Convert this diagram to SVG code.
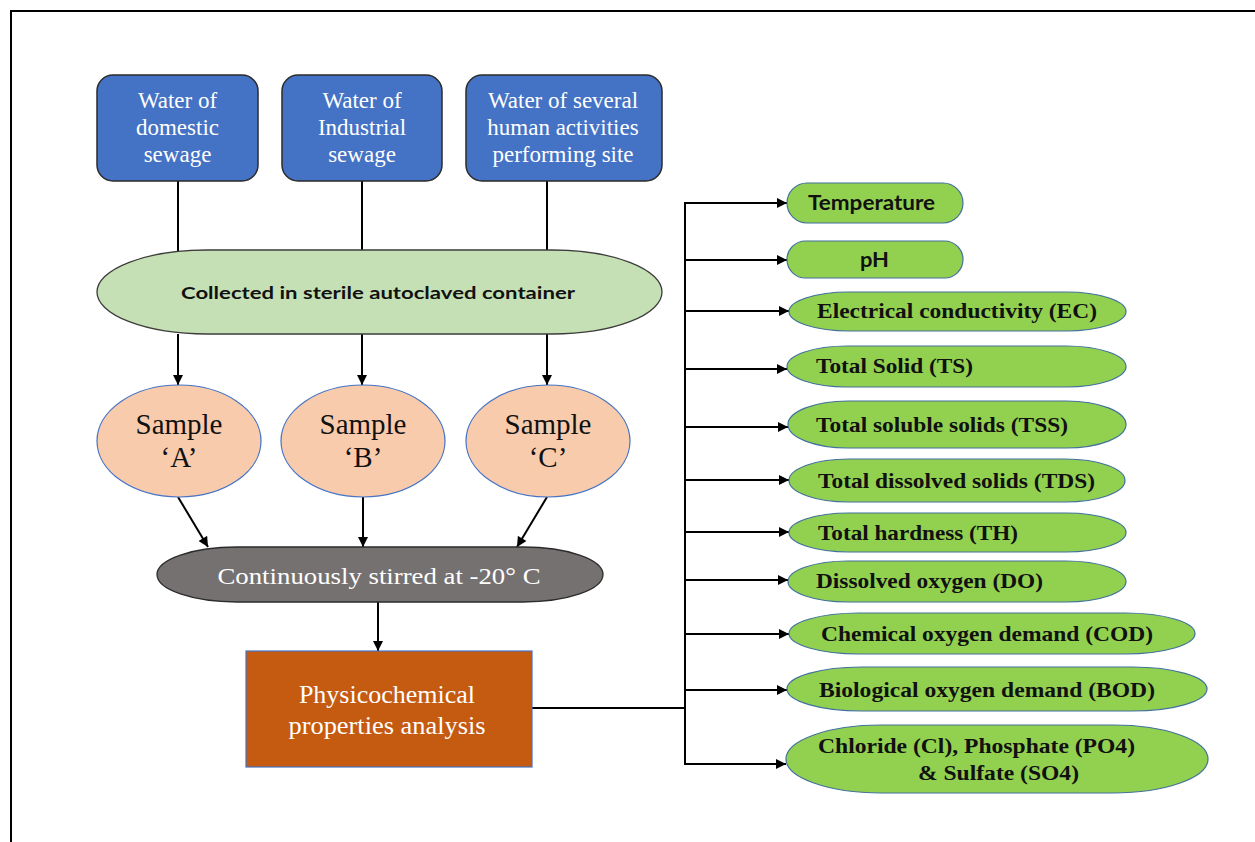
<svg xmlns="http://www.w3.org/2000/svg" width="1255" height="842" viewBox="0 0 1255 842">
<style>
.src{fill:#4472C4;stroke:#2b2b2b;stroke-width:1.5}
.srct{font-family:"Liberation Serif",serif;font-size:23px;fill:#fff;text-anchor:middle}
.samp{fill:#F8CBAD;stroke:#4472C4;stroke-width:1.2}
.sampt{font-family:"Liberation Serif",serif;font-size:29px;fill:#111;text-anchor:middle}
.pill{fill:#92D050;stroke:#41719C;stroke-width:1.2}
.pt{font-family:"Liberation Serif",serif;font-size:22px;font-weight:bold;fill:#111}
.ps{font-family:Lato,"Liberation Sans",sans-serif;font-size:20px;font-weight:bold;fill:#111}
.ln{stroke:#000;stroke-width:2;fill:none}
.ar{stroke:#000;stroke-width:2;fill:none;marker-end:url(#ah)}
</style>
<defs>
<marker id="ah" viewBox="0 0 10 10" refX="10" refY="5" markerWidth="5.5" markerHeight="5" orient="auto" markerUnits="strokeWidth">
<path d="M0,0 L10,5 L0,10 z" fill="#000"/>
</marker>
</defs>
<rect x="0" y="0" width="1255" height="842" fill="#fff"/>
<rect x="11" y="11" width="1270" height="860" fill="none" stroke="#000" stroke-width="2"/>

<g id="connectors">
<line class="ln" x1="178" y1="181" x2="178" y2="251"/>
<line class="ln" x1="362" y1="181" x2="362" y2="251"/>
<line class="ln" x1="547" y1="181" x2="547" y2="251"/>
<line class="ar" x1="178" y1="334" x2="178" y2="385"/>
<line class="ar" x1="362" y1="334" x2="362" y2="385"/>
<line class="ar" x1="547" y1="334" x2="547" y2="385"/>
<line class="ar" x1="178" y1="497" x2="208" y2="547"/>
<line class="ar" x1="363" y1="497" x2="363" y2="547"/>
<line class="ar" x1="547" y1="497" x2="517" y2="547"/>
<line class="ar" x1="378" y1="602" x2="378" y2="651"/>
<line class="ln" x1="532" y1="708" x2="685" y2="708"/>
<line class="ln" x1="685" y1="202" x2="685" y2="764"/>
<line class="ar" x1="684" y1="203" x2="787" y2="203"/>
<line class="ar" x1="685" y1="260" x2="787" y2="260"/>
<line class="ar" x1="685" y1="311" x2="789" y2="311"/>
<line class="ar" x1="685" y1="369" x2="787" y2="369"/>
<line class="ar" x1="685" y1="427" x2="788" y2="427"/>
<line class="ar" x1="685" y1="480" x2="789" y2="480"/>
<line class="ar" x1="685" y1="532" x2="789" y2="532"/>
<line class="ar" x1="685" y1="580" x2="788" y2="580"/>
<line class="ar" x1="685" y1="634" x2="789" y2="634"/>
<line class="ar" x1="685" y1="690" x2="787" y2="690"/>
<line class="ar" x1="684" y1="764" x2="786" y2="764"/>
</g>

<g id="src1">
<rect class="src" x="97" y="75" width="161" height="106" rx="16"/>
<text class="srct" x="177.5" y="108">Water of</text>
<text class="srct" x="177.5" y="135">domestic</text>
<text class="srct" x="177.5" y="162">sewage</text>
</g>
<g id="src2">
<rect class="src" x="282" y="75" width="160" height="106" rx="16"/>
<text class="srct" x="362" y="108">Water of</text>
<text class="srct" x="362" y="135">Industrial</text>
<text class="srct" x="362" y="162">sewage</text>
</g>
<g id="src3">
<rect class="src" x="466" y="75" width="196" height="106" rx="16"/>
<text class="srct" x="563" y="108">Water of several</text>
<text class="srct" x="563" y="135">human activities</text>
<text class="srct" x="563" y="162">performing site</text>
</g>

<g id="collected">
<rect x="97" y="250" width="565" height="84" rx="110" ry="42" fill="#C5E0B4" stroke="#3c3c3c" stroke-width="1.3"/>
<text x="378" y="299" text-anchor="middle" font-family="Lato,'Liberation Sans',sans-serif" font-size="17.5" font-weight="bold" fill="#111" textLength="394" lengthAdjust="spacingAndGlyphs">Collected in sterile autoclaved container</text>
</g>

<g id="sampleA">
<ellipse class="samp" cx="179" cy="441" rx="82" ry="56"/>
<text class="sampt" x="179" y="434">Sample</text>
<text class="sampt" x="179" y="467">‘A’</text>
</g>
<g id="sampleB">
<ellipse class="samp" cx="363" cy="441" rx="82" ry="56"/>
<text class="sampt" x="363" y="434">Sample</text>
<text class="sampt" x="363" y="467">‘B’</text>
</g>
<g id="sampleC">
<ellipse class="samp" cx="548" cy="441" rx="82" ry="56"/>
<text class="sampt" x="548" y="434">Sample</text>
<text class="sampt" x="548" y="467">‘C’</text>
</g>

<g id="stirred">
<rect x="157" y="547" width="446" height="55" rx="80" ry="27.5" fill="#767171" stroke="#2b2b2b" stroke-width="1.3"/>
<text x="379" y="584" text-anchor="middle" font-family="'Liberation Serif',serif" font-size="24" fill="#fff" textLength="323" lengthAdjust="spacingAndGlyphs">Continuously stirred at -20° C</text>
</g>

<g id="analysis">
<rect x="246" y="651" width="286" height="116" fill="#C55A11" stroke="#4472C4" stroke-width="1.2"/>
<text x="387" y="703" text-anchor="middle" font-family="'Liberation Serif',serif" font-size="26" fill="#fff">Physicochemical</text>
<text x="387" y="734" text-anchor="middle" font-family="'Liberation Serif',serif" font-size="26" fill="#fff" textLength="197" lengthAdjust="spacingAndGlyphs">properties  analysis</text>
</g>

<g id="temperature">
<rect class="pill" x="787" y="183" width="176" height="40" rx="20"/>
<text class="ps" x="808" y="210" textLength="127" lengthAdjust="spacingAndGlyphs">Temperature</text>
</g>
<g id="ph">
<rect class="pill" x="787" y="241" width="176" height="37" rx="18.5"/>
<text class="ps" x="860" y="267" textLength="29" lengthAdjust="spacingAndGlyphs">pH</text>
</g>
<g id="ec">
<rect class="pill" x="789" y="292" width="337" height="39" rx="60" ry="19.5"/>
<text class="pt" x="817" y="318" textLength="280" lengthAdjust="spacingAndGlyphs">Electrical conductivity (EC)</text>
</g>
<g id="ts">
<rect class="pill" x="787" y="346" width="339" height="41" rx="60" ry="20.5"/>
<text class="pt" x="816" y="373" textLength="157" lengthAdjust="spacingAndGlyphs">Total Solid (TS)</text>
</g>
<g id="tss">
<rect class="pill" x="788" y="401" width="338" height="47" rx="60" ry="23.5"/>
<text class="pt" x="816" y="432" textLength="252" lengthAdjust="spacingAndGlyphs">Total soluble solids (TSS)</text>
</g>
<g id="tds">
<rect class="pill" x="789" y="459" width="336" height="43" rx="60" ry="21.5"/>
<text class="pt" x="818" y="488" textLength="277" lengthAdjust="spacingAndGlyphs">Total dissolved solids (TDS)</text>
</g>
<g id="th">
<rect class="pill" x="789" y="513" width="337" height="39" rx="60" ry="19.5"/>
<text class="pt" x="818" y="540" textLength="200" lengthAdjust="spacingAndGlyphs">Total hardness (TH)</text>
</g>
<g id="do">
<rect class="pill" x="788" y="561" width="338" height="41" rx="60" ry="20.5"/>
<text class="pt" x="816" y="588" textLength="227" lengthAdjust="spacingAndGlyphs">Dissolved oxygen (DO)</text>
</g>
<g id="cod">
<rect class="pill" x="789" y="613" width="406" height="41" rx="70" ry="20.5"/>
<text class="pt" x="821" y="641" textLength="332" lengthAdjust="spacingAndGlyphs">Chemical oxygen demand (COD)</text>
</g>
<g id="bod">
<rect class="pill" x="787" y="667" width="420" height="44" rx="75" ry="22"/>
<text class="pt" x="819" y="697" textLength="336" lengthAdjust="spacingAndGlyphs">Biological oxygen demand (BOD)</text>
</g>
<g id="ions">
<rect class="pill" x="786" y="725" width="422" height="68" rx="95" ry="34"/>
<text class="pt" x="818" y="753" textLength="317" lengthAdjust="spacingAndGlyphs">Chloride (Cl), Phosphate (PO4)</text>
<text class="pt" x="918" y="780" textLength="161" lengthAdjust="spacingAndGlyphs">&amp; Sulfate (SO4)</text>
</g>
</svg>
